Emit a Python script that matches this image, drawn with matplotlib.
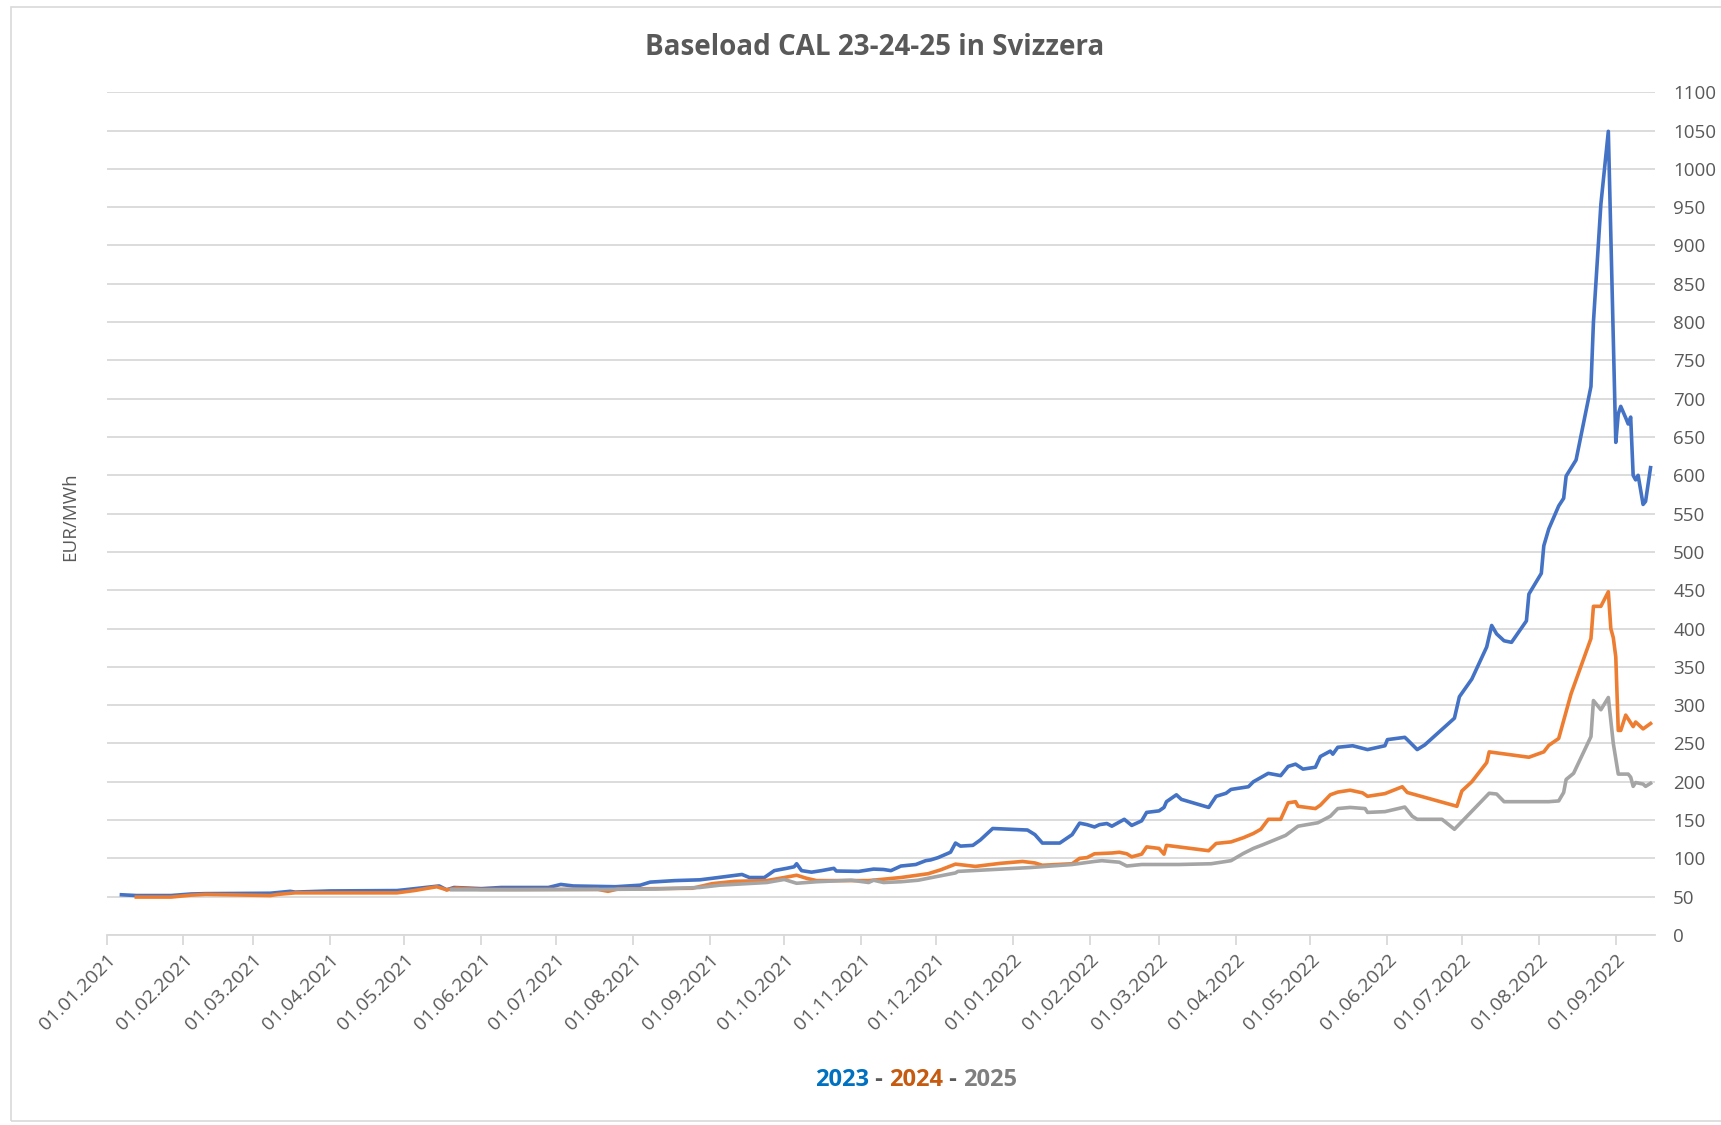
from __future__ import annotations

import matplotlib

matplotlib.use("Agg")
import matplotlib.dates as mdates
import matplotlib.pyplot as plt
import pandas as pd
from matplotlib.offsetbox import AnnotationBbox, HPacker, TextArea
from matplotlib.patches import Rectangle


TITLE = "Baseload CAL 23-24-25 in Svizzera"
Y_LABEL = "EUR/MWh"
SERIES_NAMES = ["2023", "2024", "2025"]

# CAL-23 (blue)
dates_2023 = [
    "2021-01-07", "2021-01-13", "2021-01-27", "2021-02-04", "2021-02-10", "2021-03-08",
    "2021-03-16", "2021-03-18", "2021-04-01", "2021-04-28", "2021-05-01", "2021-05-15",
    "2021-05-18", "2021-05-21", "2021-06-01", "2021-06-09", "2021-06-28", "2021-07-03",
    "2021-07-08", "2021-07-25", "2021-08-04", "2021-08-08", "2021-08-18", "2021-08-28",
    "2021-09-02", "2021-09-09", "2021-09-14", "2021-09-17", "2021-09-23", "2021-09-27",
    "2021-10-02", "2021-10-05", "2021-10-06", "2021-10-08", "2021-10-12", "2021-10-16",
    "2021-10-21", "2021-10-22", "2021-10-31", "2021-11-06", "2021-11-10", "2021-11-13",
    "2021-11-17", "2021-11-23", "2021-11-27", "2021-11-29", "2021-12-02", "2021-12-07",
    "2021-12-09", "2021-12-11", "2021-12-16", "2021-12-19", "2021-12-24", "2022-01-07",
    "2022-01-10", "2022-01-13", "2022-01-20", "2022-01-25", "2022-01-28", "2022-01-31",
    "2022-02-03", "2022-02-05", "2022-02-08", "2022-02-10", "2022-02-15", "2022-02-18",
    "2022-02-22", "2022-02-24", "2022-03-01", "2022-03-03", "2022-03-04", "2022-03-08",
    "2022-03-10", "2022-03-21", "2022-03-24", "2022-03-28", "2022-03-30", "2022-04-06",
    "2022-04-08", "2022-04-11", "2022-04-14", "2022-04-19", "2022-04-22", "2022-04-25",
    "2022-04-28", "2022-05-03", "2022-05-05", "2022-05-09", "2022-05-10", "2022-05-12",
    "2022-05-18", "2022-05-24", "2022-05-31", "2022-06-01", "2022-06-08", "2022-06-09",
    "2022-06-13", "2022-06-16", "2022-06-28", "2022-06-30", "2022-07-05", "2022-07-11",
    "2022-07-13", "2022-07-15", "2022-07-18", "2022-07-21", "2022-07-27", "2022-07-28",
    "2022-08-02", "2022-08-03", "2022-08-05", "2022-08-09", "2022-08-11", "2022-08-12",
    "2022-08-16", "2022-08-22", "2022-08-23", "2022-08-26", "2022-08-29", "2022-09-01",
    "2022-09-02", "2022-09-03", "2022-09-05", "2022-09-06", "2022-09-07", "2022-09-08",
    "2022-09-09", "2022-09-10", "2022-09-12", "2022-09-13", "2022-09-15",
]
values_2023 = [
    52.5, 51.5, 51.5, 53.5, 54, 54.5,
    57, 56, 57.5, 58, 59, 64,
    59, 62, 60.5, 62, 62, 66,
    64, 63, 65, 69, 71, 72,
    74, 77, 79, 75, 75, 84,
    87, 89, 93, 84, 82, 84,
    87, 83.5, 83, 86, 85.5, 84,
    90, 92, 97, 98, 101, 108,
    120, 116, 117, 124, 139, 137,
    131, 120, 120, 131, 146, 144,
    141, 144, 145.5, 142, 151, 143,
    149, 160, 162, 166.5, 174, 183,
    177, 166.5, 181, 185, 190, 193.5,
    200, 205.5, 211, 208, 220, 223,
    216.5, 219, 233, 240, 236, 245,
    247, 242, 247, 255, 258, 255,
    242, 248, 283, 311, 334, 376,
    404, 393, 384, 382, 410, 445,
    472, 508, 530, 560, 570, 599,
    620, 716, 800, 954, 1049, 643,
    680, 690, 675, 667, 676, 600,
    594, 600, 562, 566, 610,
]

# CAL-24 (orange)
dates_2024 = [
    "2021-01-13", "2021-01-27", "2021-02-04", "2021-02-10", "2021-03-08", "2021-03-11",
    "2021-03-18", "2021-04-28", "2021-05-05", "2021-05-14", "2021-05-18", "2021-05-22",
    "2021-06-01", "2021-07-18", "2021-07-22", "2021-07-26", "2021-08-25", "2021-09-02",
    "2021-09-11", "2021-09-24", "2021-10-01", "2021-10-06", "2021-10-10", "2021-10-14",
    "2021-11-04", "2021-11-09", "2021-11-17", "2021-11-28", "2021-12-03", "2021-12-09",
    "2021-12-13", "2021-12-17", "2021-12-27", "2022-01-05", "2022-01-10", "2022-01-13",
    "2022-01-25", "2022-01-28", "2022-01-31", "2022-02-03", "2022-02-10", "2022-02-13",
    "2022-02-16", "2022-02-18", "2022-02-22", "2022-02-24", "2022-03-01", "2022-03-03",
    "2022-03-04", "2022-03-21", "2022-03-24", "2022-03-30", "2022-04-04", "2022-04-08",
    "2022-04-11", "2022-04-14", "2022-04-19", "2022-04-22", "2022-04-25", "2022-04-26",
    "2022-05-03", "2022-05-05", "2022-05-09", "2022-05-12", "2022-05-17", "2022-05-22",
    "2022-05-24", "2022-05-31", "2022-06-07", "2022-06-09", "2022-06-29", "2022-07-01",
    "2022-07-05", "2022-07-11", "2022-07-12", "2022-07-28", "2022-08-03", "2022-08-05",
    "2022-08-09", "2022-08-14", "2022-08-22", "2022-08-23", "2022-08-26", "2022-08-29",
    "2022-08-30", "2022-08-31", "2022-09-01", "2022-09-02", "2022-09-03", "2022-09-05",
    "2022-09-08", "2022-09-09", "2022-09-12", "2022-09-15",
]
values_2024 = [
    49.5, 49.5, 52, 53, 51.5, 53,
    55, 55, 58, 63, 59, 61,
    59.5, 59.5, 57, 60, 61, 67,
    70, 71, 75, 78, 74, 71,
    71, 72.5, 75, 80, 85, 92.5,
    91, 89.5, 93.5, 96, 94, 91,
    93, 100, 101, 106, 107, 108,
    106, 102, 105.5, 115, 113, 105.5,
    117, 110, 119.5, 121.5, 127, 132.5,
    138, 151, 151, 172.5, 174, 168,
    165, 169.5, 183, 186.5, 189, 185.5,
    181, 184.5, 193.5, 186, 168, 188,
    200, 225, 239, 232, 239, 247.5,
    256.5, 315, 387, 429, 429, 448,
    400, 388, 363, 267, 267, 287,
    272, 278, 269, 276,
]

# CAL-25 (gray)
dates_2025 = [
    "2021-05-20", "2021-06-15", "2021-07-20", "2021-08-10", "2021-08-28", "2021-09-05",
    "2021-09-24", "2021-10-01", "2021-10-06", "2021-10-14", "2021-10-28", "2021-11-04",
    "2021-11-06", "2021-11-10", "2021-11-17", "2021-11-24", "2021-12-01", "2021-12-09",
    "2021-12-10", "2022-01-08", "2022-01-25", "2022-02-03", "2022-02-06", "2022-02-13",
    "2022-02-16", "2022-02-22", "2022-03-09", "2022-03-22", "2022-03-30", "2022-04-04",
    "2022-04-08", "2022-04-12", "2022-04-21", "2022-04-26", "2022-05-04", "2022-05-09",
    "2022-05-12", "2022-05-17", "2022-05-23", "2022-05-24", "2022-05-31", "2022-06-08",
    "2022-06-11", "2022-06-13", "2022-06-23", "2022-06-28", "2022-07-12", "2022-07-15",
    "2022-07-18", "2022-08-05", "2022-08-09", "2022-08-11", "2022-08-12", "2022-08-15",
    "2022-08-22", "2022-08-23", "2022-08-26", "2022-08-29", "2022-08-31", "2022-09-02",
    "2022-09-06", "2022-09-07", "2022-09-08", "2022-09-09", "2022-09-12", "2022-09-13",
    "2022-09-15",
]
values_2025 = [
    59, 59, 59.5, 60, 62, 65,
    68.5, 72.5, 67.5, 69.5, 71.5, 68.5,
    71.5, 68.5, 69.5, 71.5, 76, 81,
    83, 88, 92, 96, 97, 95,
    90, 92, 92, 93, 97, 106.5,
    113, 118, 130, 142, 146.5, 155,
    165, 166.5, 165, 160, 161, 167,
    155, 151, 151, 138, 185, 184,
    174, 174, 175, 186, 203, 211,
    259, 306, 294, 310, 250, 210,
    210, 206, 194, 199, 197, 194,
    198,
]

LINE_COLORS = ["#4472C4", "#ED7D31", "#A5A5A5"]
NAME_COLORS = ["#0070C0", "#C55A11", "#7F7F7F"]
TEXT_GRAY = "#595959"
GRID_GRAY = "#D9D9D9"
FONT = ["Open Sans", "DejaVu Sans"]


def _render(out_png: str) -> None:
    plt.rcParams["font.family"] = FONT

    fig = plt.figure(figsize=(17.21, 11.25), dpi=100)
    ax = fig.add_axes([0.0619, 0.1689, 0.8998, 0.7491])

    # chart-area border
    fig.patches.append(
        Rectangle((0.0064, 0.004), 1.2, 0.99, transform=fig.transFigure,
                  fill=False, edgecolor=GRID_GRAY, linewidth=1.2)
    )

    series = [
        (dates_2023, values_2023),
        (dates_2024, values_2024),
        (dates_2025, values_2025),
    ]
    for (d, v), color in zip(series, LINE_COLORS):
        ax.plot(pd.to_datetime(d), v, color=color, linewidth=2.6,
                solid_joinstyle="round", zorder=3)

    ax.set_xlim(pd.Timestamp("2021-01-01"), pd.Timestamp("2022-09-16 20:00"))
    ax.set_ylim(0, 1100)
    ax.set_yticks(range(0, 1101, 50))

    ax.xaxis.set_major_locator(mdates.MonthLocator())
    ax.xaxis.set_major_formatter(mdates.DateFormatter("%d.%m.%Y"))

    ax.yaxis.tick_right()
    ax.grid(axis="y", color=GRID_GRAY, linewidth=1.3)
    ax.set_axisbelow(True)
    for side in ("left", "right", "top"):
        ax.spines[side].set_visible(False)
    ax.spines["bottom"].set_color(GRID_GRAY)
    ax.spines["bottom"].set_linewidth(1.3)

    ax.tick_params(axis="y", length=0, pad=13, labelsize=13.5, labelcolor=TEXT_GRAY)
    ax.tick_params(axis="x", length=7, width=1.3, color=GRID_GRAY, pad=4,
                   labelsize=14, labelcolor=TEXT_GRAY)
    for lbl in ax.get_xticklabels():
        lbl.set_rotation(45)
        lbl.set_ha("right")
        lbl.set_va("top")
        lbl.set_rotation_mode("anchor")
    for lbl in ax.get_yticklabels():
        lbl.set_ha("left")

    fig.text(0.508, 0.958, TITLE, ha="center", va="center", fontsize=20,
             fontweight="bold", color=TEXT_GRAY)
    fig.text(0.041, 0.541, Y_LABEL, ha="center", va="center", rotation=90,
             fontsize=13.5, color=TEXT_GRAY)

    # coloured "2023 - 2024 - 2025" line under the axis
    parts = []
    for i, (name, color) in enumerate(zip(SERIES_NAMES, NAME_COLORS)):
        if i:
            parts.append(TextArea(" - ", textprops=dict(color=TEXT_GRAY, fontsize=17,
                                                        fontweight="bold")))
        parts.append(TextArea(name, textprops=dict(color=color, fontsize=17,
                                                   fontweight="bold")))
    box = HPacker(children=parts, pad=0, sep=0, align="baseline")
    ab = AnnotationBbox(box, (0.532, 0.040), xycoords="figure fraction",
                        frameon=False, box_alignment=(0.5, 0.5))
    fig.add_artist(ab)

    fig.savefig(out_png, dpi=100)
    plt.close(fig)


def main() -> None:
    _render("out.png")


if __name__ == "__main__":
    main()
